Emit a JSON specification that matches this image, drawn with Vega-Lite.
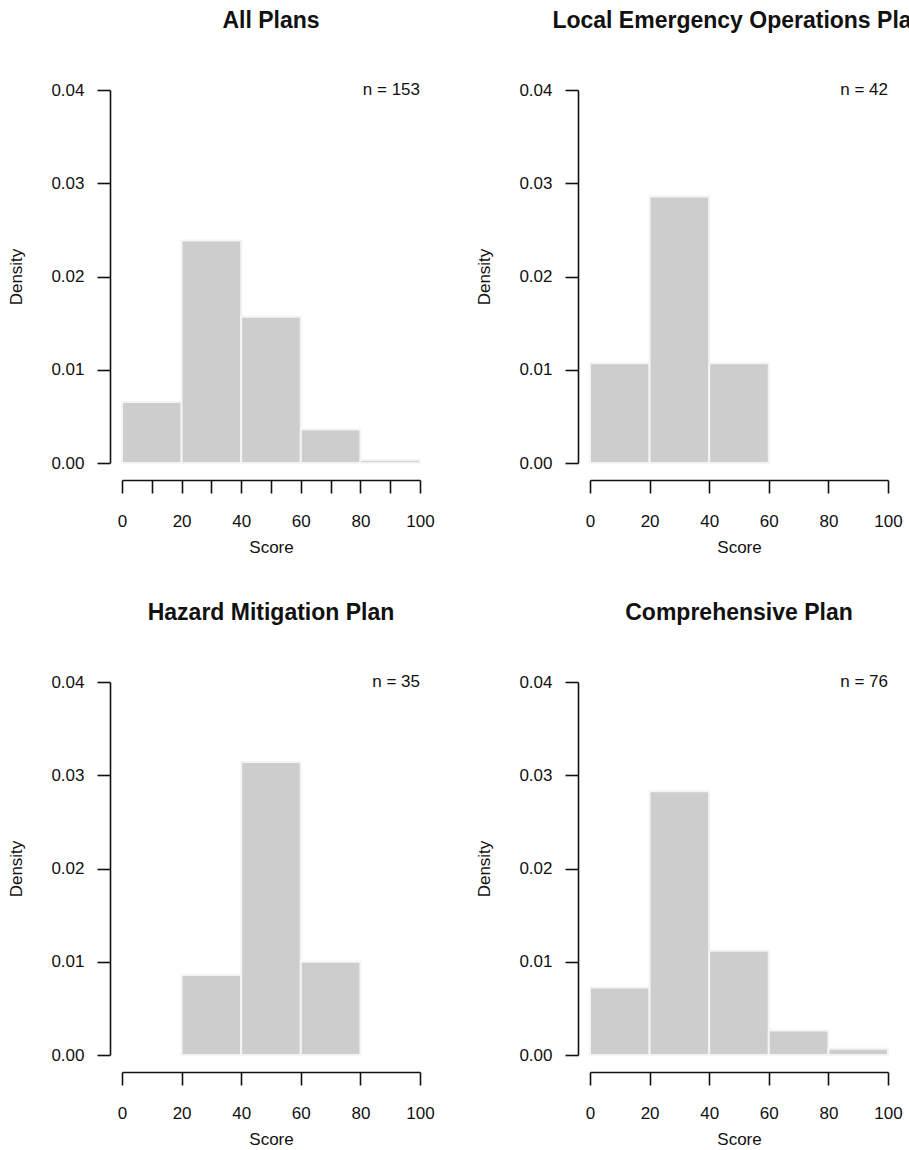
{
  "$schema": "https://vega.github.io/schema/vega-lite/v6.json",
  "padding": {"left": 7, "top": 10, "right": 0, "bottom": 5},
  "background": "white",
  "datasets": {
    "bins": [
      {"plan": "All Plans", "start": 0, "end": 20, "density": 0.00654},
      {"plan": "All Plans", "start": 20, "end": 40, "density": 0.02386},
      {"plan": "All Plans", "start": 40, "end": 60, "density": 0.01569},
      {"plan": "All Plans", "start": 60, "end": 80, "density": 0.0036},
      {"plan": "All Plans", "start": 80, "end": 100, "density": 0.00033},
      {"plan": "Local Emergency Operations Plan", "start": 0, "end": 20, "density": 0.01071},
      {"plan": "Local Emergency Operations Plan", "start": 20, "end": 40, "density": 0.02857},
      {"plan": "Local Emergency Operations Plan", "start": 40, "end": 60, "density": 0.01071},
      {"plan": "Hazard Mitigation Plan", "start": 20, "end": 40, "density": 0.00857},
      {"plan": "Hazard Mitigation Plan", "start": 40, "end": 60, "density": 0.03143},
      {"plan": "Hazard Mitigation Plan", "start": 60, "end": 80, "density": 0.01},
      {"plan": "Comprehensive Plan", "start": 0, "end": 20, "density": 0.00724},
      {"plan": "Comprehensive Plan", "start": 20, "end": 40, "density": 0.02829},
      {"plan": "Comprehensive Plan", "start": 40, "end": 60, "density": 0.01118},
      {"plan": "Comprehensive Plan", "start": 60, "end": 80, "density": 0.00263},
      {"plan": "Comprehensive Plan", "start": 80, "end": 100, "density": 0.00066}
    ],
    "ns": [
      {"plan": "All Plans", "label": "n = 153"},
      {"plan": "Local Emergency Operations Plan", "label": "n = 42"},
      {"plan": "Hazard Mitigation Plan", "label": "n = 35"},
      {"plan": "Comprehensive Plan", "label": "n = 76"}
    ]
  },
  "columns": 2,
  "bounds": "flush",
  "spacing": {"column": 170, "row": 219},
  "concat": [
    {
      "title": "All Plans",
      "width": 298, "height": 373,
      "layer": [
        {
          "data": {"name": "bins"},
          "transform": [{"filter": "datum.plan == 'All Plans'"}],
          "mark": {"type": "bar", "fill": "#cdcdcd", "stroke": "#f4f4f4", "strokeWidth": 2},
          "encoding": {
            "x": {"field": "start", "type": "quantitative", "scale": {"domain": [0, 100]},
                  "axis": {"title": "Score", "values": [0, 10, 20, 30, 40, 50, 60, 70, 80, 90, 100], "labelExpr": "datum.value % 20 == 0 ? datum.label : ''"}},
            "x2": {"field": "end"},
            "y": {"field": "density", "type": "quantitative", "scale": {"domain": [0, 0.04], "nice": false, "zero": false},
                  "axis": {"title": "Density", "values": [0, 0.01, 0.02, 0.03, 0.04], "format": ".2f"}},
            "y2": {"datum": 0}
          }
        },
        {
          "data": {"name": "ns"},
          "transform": [{"filter": "datum.plan == 'All Plans'"}],
          "mark": {"type": "text", "align": "right", "baseline": "middle", "fontSize": 17, "color": "#111"},
          "encoding": {
            "x": {"datum": 100, "type": "quantitative",
                  "axis": {"title": "Score", "values": [0, 10, 20, 30, 40, 50, 60, 70, 80, 90, 100], "labelExpr": "datum.value % 20 == 0 ? datum.label : ''"}},
            "y": {"datum": 0.04, "type": "quantitative",
                  "axis": {"title": "Density", "values": [0, 0.01, 0.02, 0.03, 0.04], "format": ".2f"}},
            "text": {"field": "label"}
          }
        }
      ]
    },
    {
      "title": "Local Emergency Operations Plan",
      "width": 298, "height": 373,
      "layer": [
        {
          "data": {"name": "bins"},
          "transform": [{"filter": "datum.plan == 'Local Emergency Operations Plan'"}],
          "mark": {"type": "bar", "fill": "#cdcdcd", "stroke": "#f4f4f4", "strokeWidth": 2},
          "encoding": {
            "x": {"field": "start", "type": "quantitative", "scale": {"domain": [0, 100]},
                  "axis": {"title": "Score", "values": [0, 20, 40, 60, 80, 100]}},
            "x2": {"field": "end"},
            "y": {"field": "density", "type": "quantitative", "scale": {"domain": [0, 0.04], "nice": false, "zero": false},
                  "axis": {"title": "Density", "values": [0, 0.01, 0.02, 0.03, 0.04], "format": ".2f"}},
            "y2": {"datum": 0}
          }
        },
        {
          "data": {"name": "ns"},
          "transform": [{"filter": "datum.plan == 'Local Emergency Operations Plan'"}],
          "mark": {"type": "text", "align": "right", "baseline": "middle", "fontSize": 17, "color": "#111"},
          "encoding": {
            "x": {"datum": 100, "type": "quantitative", "axis": {"title": "Score", "values": [0, 20, 40, 60, 80, 100]}},
            "y": {"datum": 0.04, "type": "quantitative", "axis": {"title": "Density", "values": [0, 0.01, 0.02, 0.03, 0.04], "format": ".2f"}},
            "text": {"field": "label"}
          }
        }
      ]
    },
    {
      "title": "Hazard Mitigation Plan",
      "width": 298, "height": 373,
      "layer": [
        {
          "data": {"name": "bins"},
          "transform": [{"filter": "datum.plan == 'Hazard Mitigation Plan'"}],
          "mark": {"type": "bar", "fill": "#cdcdcd", "stroke": "#f4f4f4", "strokeWidth": 2},
          "encoding": {
            "x": {"field": "start", "type": "quantitative", "scale": {"domain": [0, 100]},
                  "axis": {"title": "Score", "values": [0, 20, 40, 60, 80, 100]}},
            "x2": {"field": "end"},
            "y": {"field": "density", "type": "quantitative", "scale": {"domain": [0, 0.04], "nice": false, "zero": false},
                  "axis": {"title": "Density", "values": [0, 0.01, 0.02, 0.03, 0.04], "format": ".2f"}},
            "y2": {"datum": 0}
          }
        },
        {
          "data": {"name": "ns"},
          "transform": [{"filter": "datum.plan == 'Hazard Mitigation Plan'"}],
          "mark": {"type": "text", "align": "right", "baseline": "middle", "fontSize": 17, "color": "#111"},
          "encoding": {
            "x": {"datum": 100, "type": "quantitative", "axis": {"title": "Score", "values": [0, 20, 40, 60, 80, 100]}},
            "y": {"datum": 0.04, "type": "quantitative", "axis": {"title": "Density", "values": [0, 0.01, 0.02, 0.03, 0.04], "format": ".2f"}},
            "text": {"field": "label"}
          }
        }
      ]
    },
    {
      "title": "Comprehensive Plan",
      "width": 298, "height": 373,
      "layer": [
        {
          "data": {"name": "bins"},
          "transform": [{"filter": "datum.plan == 'Comprehensive Plan'"}],
          "mark": {"type": "bar", "fill": "#cdcdcd", "stroke": "#f4f4f4", "strokeWidth": 2},
          "encoding": {
            "x": {"field": "start", "type": "quantitative", "scale": {"domain": [0, 100]},
                  "axis": {"title": "Score", "values": [0, 20, 40, 60, 80, 100]}},
            "x2": {"field": "end"},
            "y": {"field": "density", "type": "quantitative", "scale": {"domain": [0, 0.04], "nice": false, "zero": false},
                  "axis": {"title": "Density", "values": [0, 0.01, 0.02, 0.03, 0.04], "format": ".2f"}},
            "y2": {"datum": 0}
          }
        },
        {
          "data": {"name": "ns"},
          "transform": [{"filter": "datum.plan == 'Comprehensive Plan'"}],
          "mark": {"type": "text", "align": "right", "baseline": "middle", "fontSize": 17, "color": "#111"},
          "encoding": {
            "x": {"datum": 100, "type": "quantitative", "axis": {"title": "Score", "values": [0, 20, 40, 60, 80, 100]}},
            "y": {"datum": 0.04, "type": "quantitative", "axis": {"title": "Density", "values": [0, 0.01, 0.02, 0.03, 0.04], "format": ".2f"}},
            "text": {"field": "label"}
          }
        }
      ]
    }
  ],
  "config": {
    "font": "Liberation Sans",
    "view": {"stroke": null},
    "axis": {
      "grid": false,
      "domainColor": "#111",
      "domainWidth": 1.6,
      "tickColor": "#111",
      "tickWidth": 1.6,
      "tickSize": 13,
      "labelFontSize": 17,
      "labelColor": "#111",
      "labelFont": "Liberation Sans",
      "titleFont": "Liberation Sans",
      "titleFontSize": 17,
      "titleFontWeight": "normal",
      "titleColor": "#111",
      "labelOverlap": false,
      "labelFlush": false,
      "labelBound": false
    },
    "axisX": {"offset": 17, "labelPadding": 20, "titlePadding": 10, "labelAngle": 0},
    "axisY": {"offset": 12, "labelPadding": 13, "titlePadding": 25},
    "title": {
      "fontSize": 23,
      "fontWeight": "bold",
      "color": "#111",
      "anchor": "middle",
      "frame": "group",
      "offset": 48,
      "font": "Liberation Sans"
    }
  }
}
